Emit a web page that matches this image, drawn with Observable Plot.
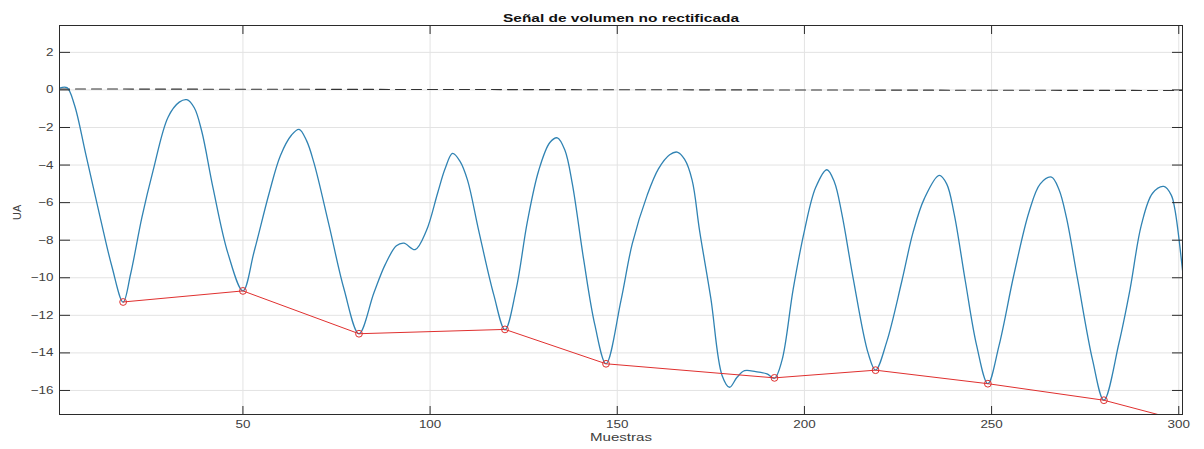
<!DOCTYPE html>
<html>
<head>
<meta charset="utf-8">
<script src="https://cdn.jsdelivr.net/npm/d3@7"></script>
<script src="https://cdn.jsdelivr.net/npm/@observablehq/plot@0.6"></script>
<style>
  html, body { margin: 0; padding: 0; background: #fff; }
  #chart svg { display: block; }
</style>
</head>
<body>
<div id="chart"></div>
<script>
// Blue signal (sample index, value in UA)
const signalX = [1, 3, 5, 8, 12, 15, 18, 20, 23, 26, 30, 33, 35, 37, 39, 42, 46, 50, 53, 57, 60, 63, 65, 67, 69, 73, 77, 81, 85, 88, 91, 93, 96, 99, 102, 104, 106, 108, 110, 113, 117, 120, 123, 126, 129, 132, 134, 136, 138, 141, 144, 147, 151, 154, 158, 161, 164, 166, 168, 170, 172, 175, 178, 180, 182, 184, 187, 190, 192, 194, 197, 200, 203, 206, 208, 210, 213, 217, 219, 222, 226, 229, 232, 236, 238, 240, 243, 246, 249, 252, 256, 260, 263, 266, 268, 270, 273, 277, 280, 284, 287, 290, 293, 296, 298, 299, 301];
const signalY = [0.1, 0.12, -0.8, -3.4, -6.9, -9.4, -11.3, -9.8, -6.8, -4.3, -1.45, -0.65, -0.52, -0.95, -2.2, -5.2, -8.7, -10.7, -8.6, -5.5, -3.5, -2.4, -2.1, -2.7, -3.9, -7.2, -10.6, -12.98, -10.8, -9.3, -8.3, -8.16, -8.5, -7.5, -5.5, -4.2, -3.38, -3.8, -4.8, -7.5, -10.9, -12.77, -10.6, -7.0, -4.3, -2.8, -2.55, -3.2, -5.0, -9.0, -12.5, -14.58, -11.2, -8.2, -5.6, -4.2, -3.45, -3.31, -3.7, -4.8, -7.5, -11.1, -15.2, -15.83, -15.3, -14.95, -15.0, -15.12, -15.35, -14.4, -10.6, -7.5, -5.2, -4.25, -4.9, -6.6, -10.0, -14.0, -14.92, -13.4, -10.2, -7.6, -5.8, -4.55, -5.0, -6.6, -10.2, -13.6, -15.64, -13.6, -9.8, -6.5, -5.0, -4.64, -5.3, -6.8, -10.1, -14.4, -16.52, -13.5, -10.6, -7.2, -5.5, -5.14, -5.6, -6.4, -9.6];

// Red envelope through detected minima
const minimaX = [18, 50, 81, 120, 147, 192, 219, 249, 280, 310];
const minimaY = [-11.29, -10.7, -12.98, -12.75, -14.58, -15.33, -14.92, -15.64, -16.52, -18.1];

// Dashed reference line
const refX = [1, 301];
const refY = [0.05, -0.03];

const xTicks = [50, 100, 150, 200, 250, 300];
const yTicks = [2, 0, -2, -4, -6, -8, -10, -12, -14, -16];

const title = "Señal de volumen no rectificada";
const xLabel = "Muestras";
const yLabel = "UA";

const signal = signalX.map((x, i) => ({x, y: signalY[i]}));
const minima = minimaX.map((x, i) => ({x, y: minimaY[i]}));
const ref = refX.map((x, i) => ({x, y: refY[i]}));

const axisColor = "#2b2b2b";
const textColor = "#404040";
const noText = () => "";

const chart = Plot.plot({
  width: 1204,
  height: 449,
  marginTop: 25,
  marginRight: 22,
  marginBottom: 35,
  marginLeft: 59,
  style: {fontFamily: "'Liberation Sans', Arial, sans-serif", background: "#fff"},
  x: {domain: [1, 301]},
  y: {domain: [-17.28, 3.43]},
  marks: [
    Plot.gridX(xTicks, {stroke: "#e3e3e3", strokeOpacity: 1, strokeWidth: 1}),
    Plot.gridY(yTicks, {stroke: "#e3e3e3", strokeOpacity: 1, strokeWidth: 1}),
    Plot.line(ref, {x: "x", y: "y", stroke: "#333", strokeWidth: 1.1, strokeDasharray: "10,6"}),
    Plot.line(signal, {x: "x", y: "y", stroke: "#3083b3", strokeWidth: 1.3, curve: "catmull-rom", clip: true}),
    Plot.line(minima, {x: "x", y: "y", stroke: "#e0302f", strokeWidth: 1, clip: true}),
    Plot.dot(minima, {x: "x", y: "y", r: 3.4, stroke: "#e0302f", strokeWidth: 1, fill: "none", clip: true}),
    // tick labels
    Plot.axisX(xTicks, {anchor: "bottom", tickSize: 0, tickPadding: 6, label: null, fontSize: 11, color: textColor}),
    Plot.axisY(yTicks, {anchor: "left", tickSize: 0, tickPadding: 6, label: null, fontSize: 11, color: textColor}),
    // inward ticks on all four sides
    Plot.axisX(xTicks, {anchor: "bottom", tickSize: -8, tickFormat: noText, label: null, stroke: axisColor}),
    Plot.axisX(xTicks, {anchor: "top", tickSize: -8, tickFormat: noText, label: null, stroke: axisColor}),
    Plot.axisY(yTicks, {anchor: "left", tickSize: -11, tickFormat: noText, label: null, stroke: axisColor}),
    Plot.axisY(yTicks, {anchor: "right", tickSize: -11, tickFormat: noText, label: null, stroke: axisColor}),
    Plot.frame({stroke: axisColor, strokeWidth: 1}),
    Plot.text([title], {frameAnchor: "top", dy: -11, fontWeight: "bold", fontSize: 11, fill: "#111"}),
    Plot.text([xLabel], {frameAnchor: "bottom", dy: 26, fontSize: 11, fill: textColor}),
    Plot.text([yLabel], {frameAnchor: "left", dx: -42, rotate: -90, fontSize: 11, fill: textColor})
  ]
});

document.getElementById("chart").appendChild(chart);

// the reference is horizontally stretched: widen horizontal texts accordingly
d3.select(chart).selectAll("text").each(function () {
  const t = this.textContent;
  if (!t || t === yLabel) return;
  let len;
  if (t === title) len = 236;
  else if (t === xLabel) len = 62;
  else len = this.getComputedTextLength() * 1.22;
  d3.select(this).attr("textLength", len).attr("lengthAdjust", "spacingAndGlyphs");
});
</script>
</body>
</html>
